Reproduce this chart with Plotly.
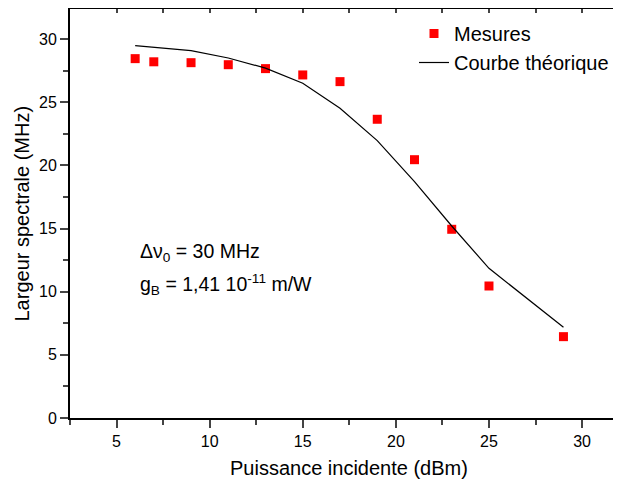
import plotly.graph_objects as go

# Measured data
x_meas = [6, 7, 9, 11, 13, 15, 17, 19, 21, 23, 25, 29]
y_meas = [28.45, 28.2, 28.13, 27.97, 27.66, 27.16, 26.63, 23.65, 20.45, 14.94, 10.45, 6.44]

# Theoretical curve
x_theo = [6, 9, 11, 13, 15, 17, 19, 21, 23, 25, 29]
y_theo = [29.48, 29.08, 28.5, 27.7, 26.5, 24.52, 21.96, 18.71, 15.2, 11.85, 7.18]

x_ticks = [5, 10, 15, 20, 25, 30]
y_ticks = [0, 5, 10, 15, 20, 25, 30]

FONT = "Arial, Liberation Sans, sans-serif"

fig = go.Figure()
fig.add_trace(go.Scatter(
    x=x_meas, y=y_meas, mode="markers", name="Mesures",
    marker=dict(symbol="square", size=9, color="#ff0000"),
))
fig.add_trace(go.Scatter(
    x=x_theo, y=y_theo, mode="lines", name="Courbe théorique",
    line=dict(color="black", width=1.2),
))
# invisible trace to activate top axis
fig.add_trace(go.Scatter(x=[None], y=[None], xaxis="x2", showlegend=False, hoverinfo="skip"))

xr = [2.5, 32.09]
fig.update_layout(
    width=613, height=475,
    margin=dict(l=62, r=0, t=1, b=65, autoexpand=False),
    paper_bgcolor="white", plot_bgcolor="white",
    font=dict(family=FONT, color="black", size=16),
    showlegend=True,
    legend=dict(
        x=(414 - 70) / 551, y=1 - (13 - 8) / 409, xanchor="left", yanchor="top",
        font=dict(size=20, family=FONT), bgcolor="rgba(0,0,0,0)",
        tracegroupgap=0,
    ),
    xaxis=dict(
        range=xr, tickvals=x_ticks, ticks="outside", ticklen=8, tickwidth=1.5,
        showline=True, linewidth=2, linecolor="black", showgrid=False, zeroline=False,
        tickfont=dict(size=16), automargin=False,
        minor=dict(dtick=2.5, tick0=0, ticks="outside", ticklen=5, tickwidth=1.5, showgrid=False),
    ),
    xaxis2=dict(
        range=xr, overlaying="x", side="top", showticklabels=False, automargin=False,
        ticks="inside", ticklen=4, tickwidth=1.5, dtick=2.5, tick0=0,
        showline=True, linewidth=2, linecolor="black", showgrid=False, zeroline=False,
    ),
    yaxis=dict(
        range=[0, 32.38], tickvals=y_ticks, ticks="outside", ticklen=8, tickwidth=1.5,
        showline=True, linewidth=2, linecolor="black", showgrid=False, zeroline=False,
        tickfont=dict(size=16), automargin=False,
        minor=dict(dtick=2.5, tick0=0, ticks="outside", ticklen=5, tickwidth=1.5, showgrid=False),
    ),
    annotations=[
        dict(text="Puissance incidente (dBm)", x=17.5, xref="x", y=0, yref="paper",
             yanchor="middle", yshift=-50, showarrow=False, font=dict(size=20)),
        dict(text="Largeur spectrale (MHz)", x=0, xref="paper", xshift=-49, y=0.5, yref="paper",
             xanchor="center", yanchor="middle", textangle=-90, showarrow=False, font=dict(size=20)),
        dict(text="Δν<sub>0</sub> = 30 MHz", x=6.15, y=13.14, xref="x", yref="y",
             xanchor="left", yanchor="middle", showarrow=False, font=dict(size=19.5)),
        dict(text="g<sub>B</sub> = 1,41 10<sup>-11</sup> m/W", x=6.15, y=10.6, xref="x", yref="y",
             xanchor="left", yanchor="middle", showarrow=False, font=dict(size=19.5)),
    ],
)

fig.write_html("out.html")
